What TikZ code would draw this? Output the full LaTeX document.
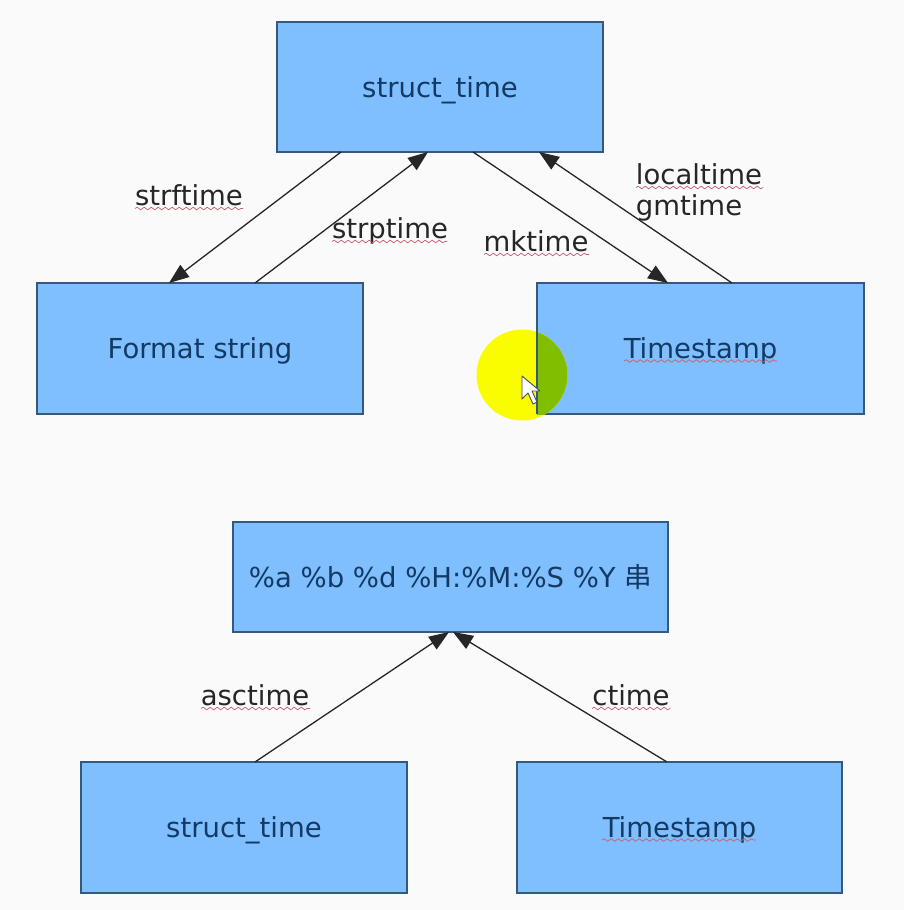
\documentclass[tikz,border=0pt]{standalone}
\usepackage{fontspec}
\setmainfont{DejaVu Sans}
\newfontfamily\cjkfont{Noto Sans CJK SC}
\usetikzlibrary{arrows.meta,decorations.pathmorphing}
\definecolor{bgc}{HTML}{FAFAFA}
\definecolor{boxfill}{HTML}{80BFFF}
\definecolor{boxline}{HTML}{34597A}
\definecolor{boxtext}{HTML}{123A63}
\definecolor{labeltext}{HTML}{262626}
\definecolor{squigc}{HTML}{C4606C}
\definecolor{hiyellow}{HTML}{FAFD00}
\definecolor{higreen}{HTML}{82BE00}
\tikzset{
  boxnode/.style={draw=boxline,fill=boxfill,line width=1.3pt,outer sep=0pt,inner sep=0pt,
    text=boxtext,font=\fontsize{27.5}{30}\selectfont,text height=26pt,text depth=6pt,align=center},
  lab/.style={text=labeltext,font=\fontsize{27.5}{30}\selectfont,inner sep=0pt,anchor=base},
  conn/.style={draw=black!85,line width=1.3pt,-{Triangle[length=20pt,width=15pt]},shorten >=0pt},
  squig/.style={draw=squigc,line width=0.7pt,decorate,decoration={snake,amplitude=1.3pt,segment length=7pt}}
}
\newcommand{\squigline}[3]{\draw[squig] (#1,#3) -- (#2,#3);}
\begin{document}
\begin{tikzpicture}[x=1pt,y=-1pt]
\useasboundingbox[fill=bgc] (0,0) rectangle (904,910);
% boxes
\node[boxnode,minimum width=326pt,minimum height=130pt] (top) at (440,87) {struct\_time};
\node[boxnode,minimum width=326pt,minimum height=131pt] (fmt) at (200,348.5) {Format string};
\node[boxnode,minimum width=327pt,minimum height=131pt] (ts) at (700.5,348.5) {Timestamp};
\node[boxnode,minimum width=435pt,minimum height=110pt] (str) at (450.5,577) {\%a \%b \%d \%H:\%M:\%S \%Y {\cjkfont 串}};
\node[boxnode,minimum width=326pt,minimum height=131pt] (st2) at (244,827.5) {struct\_time};
\node[boxnode,minimum width=325pt,minimum height=131pt] (ts2) at (679.5,827.5) {Timestamp};
% connector ends on the box borders
\coordinate (topA) at ([xshift=64pt]top.south west);
\coordinate (topB) at ([xshift=151pt]top.south west);
\coordinate (topC) at ([xshift=196pt]top.south west);
\coordinate (topD) at ([xshift=262pt]top.south west);
\coordinate (fmtA) at ([xshift=132pt]fmt.north west);
\coordinate (fmtB) at ([xshift=218pt]fmt.north west);
\coordinate (tsA) at ([xshift=131pt]ts.north west);
\coordinate (tsB) at ([xshift=195pt]ts.north west);
\coordinate (strA) at ([xshift=216pt]str.south west);
\coordinate (strB) at ([xshift=220pt]str.south west);
\coordinate (st2A) at ([xshift=174pt]st2.north west);
\coordinate (ts2A) at ([xshift=150pt]ts2.north west);
% connectors
\draw[conn] (topA) -- (fmtA);
\draw[conn] (fmtB) -- (topB);
\draw[conn] (topC) -- (tsA);
\draw[conn] (tsB) -- (topD);
\draw[conn] (st2A) -- (strA);
\draw[conn] (ts2A) -- (strB);
% labels
\node[lab] (l1) at (189,205) {strftime};
\node[lab] (l2) at (390,238) {strptime};
\node[lab] (l3) at (536,251) {mktime};
\node[lab] (l4) at (699,184) {localtime};
\node[lab] (l5) at (689,215) {gmtime};
\node[lab] (l6) at (255,705) {asctime};
\node[lab] (l7) at (631,705) {ctime};
% spell-check underlines
\squigline{135}{243}{208.5}
\squigline{332}{447}{241.5}
\squigline{484}{589}{254.5}
\squigline{636}{763}{187.5}
\squigline{201}{310}{708.5}
\squigline{592}{670}{708.5}
\squigline{624}{777}{361}
\squigline{602}{756}{840}
% pointer highlight
\fill[hiyellow] (522,375) circle (45.5pt);
\begin{scope}
\clip (ts.north west) rectangle (ts.south east);
\fill[higreen] (522,375) circle (45.5pt);
\end{scope}
\draw[boxline,line width=1.3pt] (ts.north west) -- (ts.south west);
% pointer
\draw[fill=white,draw=black!70,line width=0.9pt,line join=round]
 (522,376) -- (522,399) -- (528,393) -- (533,404) -- (537,402) -- (532,391) -- (540,391) -- cycle;
\end{tikzpicture}
\end{document}
